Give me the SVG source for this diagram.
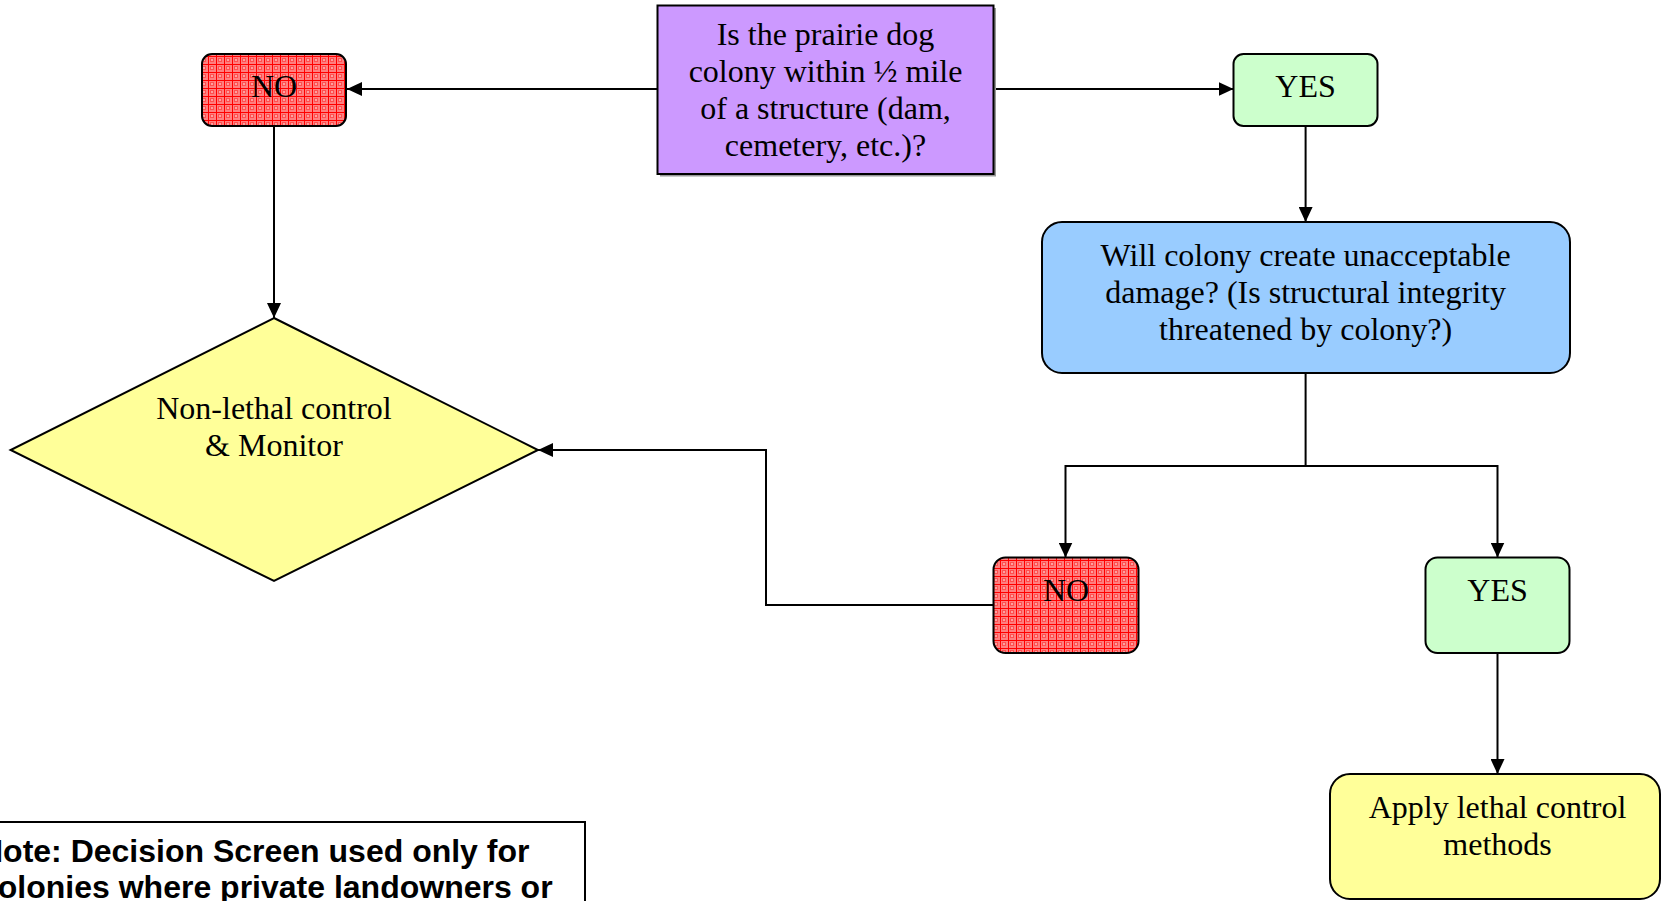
<svg xmlns="http://www.w3.org/2000/svg" width="1663" height="901" viewBox="0 0 1663 901">
<style>
.lbl{font-family:"Liberation Serif","Times New Roman",serif;font-size:32px;fill:#000;text-anchor:middle}
.note{font-family:"Liberation Sans",Arial,sans-serif;font-size:32px;font-weight:bold;fill:#000}
.box{stroke:#000;stroke-width:2}
.con{fill:none;stroke:#000;stroke-width:2}
</style>
<defs>
<pattern id="redhatch" width="8" height="8" patternUnits="userSpaceOnUse">
<rect width="8" height="8" fill="#ff8080"/>
<rect x="2" y="2" width="4" height="4" fill="#ff5050"/>
<rect x="3" y="3" width="2" height="2" fill="#ffa0a0"/>
<path d="M0 0.5H8M0.5 0V8" stroke="#ff0000" stroke-width="1"/>
</pattern>
<marker id="arr" markerWidth="15" markerHeight="14" refX="15" refY="7" orient="auto" markerUnits="userSpaceOnUse">
<path d="M0,0 L15,7 L0,14 z" fill="#000"/>
</marker>
</defs>
<rect width="1663" height="901" fill="#fff"/>
<g id="connectors">
<path class="con" d="M657.5,89 H347" marker-end="url(#arr)"/>
<path class="con" d="M994,89 H1233.5" marker-end="url(#arr)"/>
<path class="con" d="M274,126 V318" marker-end="url(#arr)"/>
<path class="con" d="M1305.6,126 V222" marker-end="url(#arr)"/>
<path class="con" d="M1305.6,373 V466 H1065.5 V557.5" marker-end="url(#arr)"/>
<path class="con" d="M1305.6,466 H1497.5 V557.5" marker-end="url(#arr)"/>
<path class="con" d="M993.5,605 H766 V450 H538" marker-end="url(#arr)"/>
<path class="con" d="M1497.5,653 V774" marker-end="url(#arr)"/>
</g>
<g id="question1">
<rect x="660" y="8" width="336" height="168.5" fill="#999"/>
<rect class="box" x="657.5" y="5.5" width="336" height="168.5" fill="#cc99ff"/>
<text class="lbl" x="825.5" y="45">Is the prairie dog</text>
<text class="lbl" x="825.5" y="82">colony within ½ mile</text>
<text class="lbl" x="825.5" y="119">of a structure (dam,</text>
<text class="lbl" x="825.5" y="156">cemetery, etc.)?</text>
</g>
<g id="no1">
<rect class="box" x="202" y="54" width="144" height="72" rx="10" fill="url(#redhatch)"/>
<text class="lbl" x="274" y="97">NO</text>
</g>
<g id="yes1">
<rect class="box" x="1233.5" y="54" width="144" height="72" rx="10" fill="#ccffcc"/>
<text class="lbl" x="1305.6" y="97">YES</text>
</g>
<g id="question2">
<rect class="box" x="1042" y="222" width="528" height="151" rx="20" fill="#99ccff"/>
<text class="lbl" x="1305.6" y="266">Will colony create unacceptable</text>
<text class="lbl" x="1305.6" y="303">damage? (Is structural integrity</text>
<text class="lbl" x="1305.6" y="340">threatened by colony?)</text>
</g>
<g id="nonlethal">
<polygon class="box" points="274,318 538,450 274,581 10.6,450" fill="#ffff99"/>
<text class="lbl" x="274" y="419">Non-lethal control</text>
<text class="lbl" x="274" y="456">&amp; Monitor</text>
</g>
<g id="no2">
<rect class="box" x="993.5" y="557.5" width="145" height="95.5" rx="12" fill="url(#redhatch)"/>
<text class="lbl" x="1066" y="601">NO</text>
</g>
<g id="yes2">
<rect class="box" x="1425.5" y="557.5" width="144" height="95.5" rx="12" fill="#ccffcc"/>
<text class="lbl" x="1497.5" y="601">YES</text>
</g>
<g id="lethal">
<rect class="box" x="1330" y="774" width="330" height="125" rx="20" fill="#ffff99"/>
<text class="lbl" x="1497.5" y="818">Apply lethal control</text>
<text class="lbl" x="1497.5" y="855">methods</text>
</g>
<g id="note">
<rect class="box" x="-10" y="822" width="595" height="100" fill="#fff"/>
<text class="note" x="-20" y="862">Note: Decision Screen used only for</text>
<text class="note" x="-20" y="898">colonies where private landowners or</text>
</g>
</svg>
